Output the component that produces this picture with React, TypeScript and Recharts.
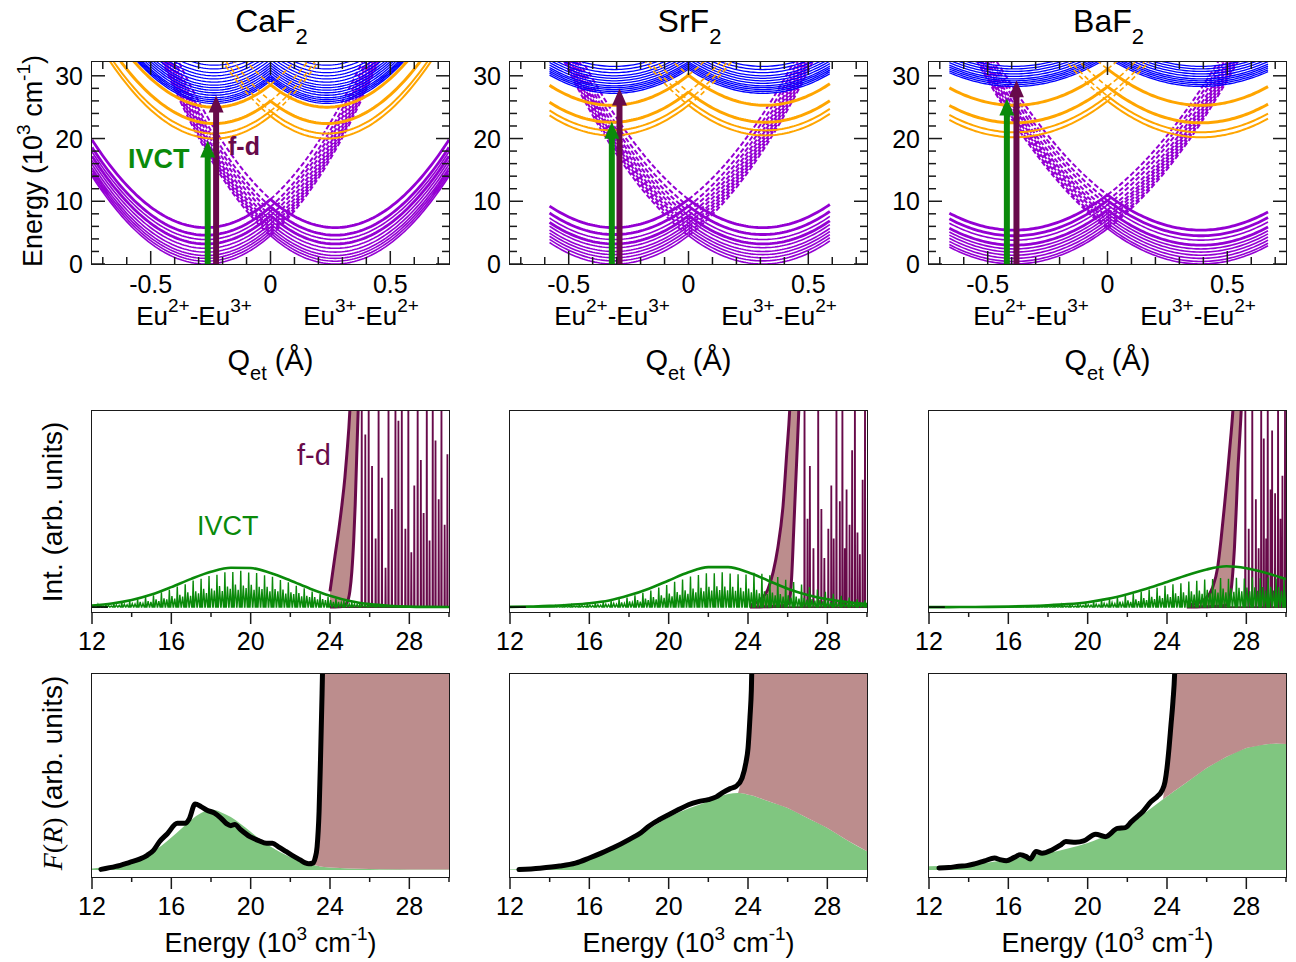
import React from "react"
import { Area, ComposedChart, Line, XAxis, YAxis } from "recharts"

const SANS = '"Liberation Sans", Arial, Helvetica, sans-serif'
const SERIF = '"Liberation Serif", "DejaVu Serif", serif'
const INK = "#1a1a1a"
const BLUE = "#0000ff"
const ORANGE = "#ffa500"
const VIOLET = "#9400d3"
const GREEN = "#0a8a0a"
const MAROON = "#680a4a"
const ROSY = "#bc8d8d"
const PALE_GREEN = "#80c680"

// plot rectangles of the 3x3 grid (px)
const COL_X = [92, 510, 929]
const PLOT_W = 357
const ROW_TOP = [62, 411, 674]
const ROW_H = [202, 201, 203]
const YW = 70
const TM = 10
const RM = 12
const XH = 52

const hosts = ["CaF", "SrF", "BaF"]

// ---------- top row axes ----------
const qTicks = [-0.7, -0.6, -0.5, -0.4, -0.3, -0.2, -0.1, 0, 0.1, 0.2, 0.3, 0.4, 0.5, 0.6, 0.7]
const qMajor = [-0.5, 0, 0.5]
const eTicks = [0, 2, 4, 6, 8, 10, 12, 14, 16, 18, 20, 22, 24, 26, 28, 30]
const eMajor = [0, 10, 20, 30]

// ---------- potential wells ----------
// vertex energies (10^3 cm^-1); wells are [|Q| of minimum, curvature]
const caRange = [-0.745, 0.745]
const caViolet = [0, 0.45, 0.9, 1.35, 1.9, 2.5, 3.2, 3.9, 4.6, 5.8]
const caVioletBold = [3.2, 4.6, 5.8]
const caOrange = [20.0, 20.8, 22.4, 25.0]
const caBlue = [25.6, 25.9, 26.2, 26.5, 26.9, 27.3, 27.7, 28.1, 28.5, 29.0, 29.5, 30.0, 30.5, 31.1, 31.7]
const caVioletWell = [0.27, 62]
const caOrangeWell = [0.235, 65]
const caBlueWell = [0.235, 65]
const caIvct = [-0.262, 18.4]
const caFd = [-0.227, 25.6]

const srRange = [-0.58, 0.59]
const srViolet = [0, 0.5, 1.0, 1.5, 2.0, 2.6, 3.2, 3.9, 4.7, 5.8]
const srVioletBold = [3.2, 4.7, 5.8]
const srOrange = [20.5, 21.3, 22.6, 25.3]
const srBlue = [27.2, 27.5, 27.8, 28.1, 28.4, 28.8, 29.2, 29.6, 30.0, 30.5, 31.0, 31.5]
const srVioletWell = [0.31, 47]
const srOrangeWell = [0.32, 47]
const srBlueWell = [0.31, 40]
const srIvct = [-0.32, 21.4]
const srFd = [-0.288, 26.7]

const baRange = [-0.66, 0.67]
const baViolet = [0, 0.4, 0.9, 1.4, 1.9, 2.4, 3.0, 3.8, 4.5, 5.4]
const baVioletBold = [3.0, 4.5, 5.4]
const baOrange = [20.2, 21.0, 22.5, 25.3]
const baBlue = [28.3, 28.6, 28.9, 29.2, 29.5, 29.9, 30.3, 30.7, 31.1, 31.5]
const baVioletWell = [0.39, 37]
const baOrangeWell = [0.39, 38]
const baBlueWell = [0.39, 30]
const baIvct = [-0.42, 25.1]
const baFd = [-0.38, 28.0]

// ---------- middle row: calculated spectra ----------
const wTicks = [12, 14, 16, 18, 20, 22, 24, 26, 28, 30]
const wMajor = [12, 16, 20, 24, 28]
const envX = [12, 13, 14, 15, 16, 17, 18, 19, 20, 21, 22, 23, 24, 25, 26, 27, 28, 29, 30]
const caEnvelope = [0.8, 1.8, 3.6, 6.4, 10.2, 14.4, 18.0, 20.1, 19.9, 17.4, 13.6, 9.4, 5.8, 3.1, 1.5, 0.65, 0.25, 0.1, 0.03]
const srEnvelope = [0.1, 0.3, 0.6, 1.2, 2.0, 3.4, 6.0, 9.4, 13.6, 17.8, 20.4, 20.4, 17.8, 13.6, 9.4, 6.2, 4.0, 2.6, 1.6]
const baEnvelope = [0, 0, 0.05, 0.1, 0.25, 0.5, 0.9, 1.5, 2.5, 4.2, 6.6, 9.5, 12.8, 16.2, 19.2, 20.8, 19.8, 17.4, 14.3]

// vibronic progression: tall lines every 0.4, two weaker lines in between
const COMB_STEP = 0.4
const caTallStart = 12.3
const caTall = [1.2, 1.4, 1.9, 2.5, 3.2, 4.0, 5.1, 6.0, 7.6, 8.8, 10.5, 11.6, 13.5, 14.4, 15.9, 16.5, 17.8, 17.9, 18.5, 17.6, 17.4, 16.2, 15.5, 13.8, 12.7, 10.9, 9.6, 7.9, 6.7, 5.3, 4.4, 3.3, 2.5, 1.9, 1.4, 1.0, 0.7, 0.5]
const caMinor = [0.6, 0.5, 0.9, 0.6, 1.1, 0.9, 1.5, 1.2, 1.8, 1.6, 2.6, 1.9, 3.0, 2.6, 3.9, 3.0, 4.4, 3.9, 5.6, 4.3, 6.2, 5.4, 7.5, 5.8, 8.0, 7.0, 9.3, 7.1, 9.5, 8.4, 10.7, 8.2, 10.5, 9.3, 11.5, 8.8, 11.0, 9.7, 11.4, 8.8, 10.4, 9.2, 10.4, 8.1, 9.2, 8.1, 8.9, 6.9, 7.6, 6.7, 7.1, 5.5, 5.8, 5.1, 5.1, 4.0, 4.1, 3.6, 3.5, 2.7, 2.6, 2.3, 2.2, 1.7, 1.6, 1.4, 1.3, 1.0, 0.9, 0.8, 0.7, 0.5, 0.5, 0.4, 0.3, 0.3]
const srTallStart = 14.3
const srTall = [0.7, 0.9, 1.1, 1.4, 1.7, 2.1, 2.6, 3.1, 4.1, 4.9, 6.0, 7.3, 8.4, 10.0, 11.2, 12.9, 14.1, 15.6, 16.4, 17.3, 17.2, 17.8, 17.1, 16.8, 16.6, 17.5, 17.0, 16.2, 15.3, 14.0, 12.8, 11.5, 10.2, 9.0, 7.8, 6.8, 5.8, 4.9, 4.0, 3.4]
const srMinor = [0.4, 0.3, 0.5, 0.4, 0.6, 0.5, 0.8, 0.6, 1.0, 0.8, 1.2, 1.0, 1.5, 1.2, 1.9, 1.5, 2.4, 1.9, 2.9, 2.3, 3.6, 2.8, 4.3, 3.5, 5.1, 4.0, 6.0, 4.7, 6.9, 5.5, 7.7, 6.2, 8.6, 6.8, 9.4, 7.5, 9.9, 8.1, 10.4, 8.4, 10.6, 8.7, 10.5, 8.6, 10.3, 8.3, 9.9, 8.0, 9.4, 7.6, 8.8, 7.0, 8.1, 6.6, 7.4, 6.0, 6.7, 5.4, 6.0, 4.9, 5.3, 4.3, 4.7, 3.8, 4.1, 3.3, 3.6, 2.9, 3.1, 2.5, 2.7, 2.2, 2.3, 1.9, 2.0, 1.6, 1.7, 1.4, 1.5, 1.2]
const baTallStart = 16.3
const baTall = [0.3, 0.4, 0.5, 0.6, 0.8, 0.9, 1.2, 1.5, 1.9, 2.3, 2.8, 3.5, 4.1, 5.0, 6.0, 6.9, 8.0, 9.0, 9.8, 10.9, 11.6, 12.2, 13.0, 13.4, 14.1, 14.3, 14.8, 14.5, 14.9, 14.6, 15.2, 14.7, 15.1, 14.6, 14.2]
const baMinor = [0.15, 0.1, 0.2, 0.15, 0.25, 0.2, 0.3, 0.25, 0.4, 0.3, 0.5, 0.4, 0.6, 0.5, 0.8, 0.6, 1.0, 0.8, 1.2, 1.0, 1.5, 1.2, 1.9, 1.5, 2.3, 1.8, 2.8, 2.2, 3.4, 2.7, 3.9, 3.1, 4.6, 3.6, 5.2, 4.1, 5.8, 4.6, 6.5, 5.1, 7.0, 5.6, 7.5, 6.0, 8.0, 6.4, 8.4, 6.8, 8.8, 7.1, 9.1, 7.4, 9.4, 7.6, 9.6, 7.8, 9.8, 8.0, 10.0, 8.1, 10.1, 8.3, 10.2, 8.4, 10.3, 8.4, 10.2, 8.3, 10.1, 8.2]

// f-d band edge (two edges of the shaded band) and f-d lines
const caFdX = [24.0, 24.25, 24.45, 24.6, 24.75, 24.85, 25.0, 25.1, 25.2, 25.27, 25.35, 25.42, 25.5]
const caFdUpper = [8, 26, 40, 52, 66, 78, 100, 125, 150, 170, 190, 210, 230]
const caFdLower = [0, 0.1, 0.2, 0.3, 1, 2, 8, 18, 35, 52, 78, 100, 130]
const caLineX = [25.6, 25.78, 25.95, 26.12, 26.3, 26.45, 26.62, 26.8, 26.95, 27.12, 27.3, 27.45, 27.62, 27.8, 27.95, 28.1, 28.25, 28.42, 28.58, 28.72, 28.88, 29.02, 29.18, 29.32, 29.48, 29.62, 29.78, 29.92]
const caLineH = [120, 88, 120, 72, 35, 120, 66, 20, 120, 50, 120, 95, 120, 40, 120, 28, 62, 120, 75, 48, 120, 34, 120, 85, 55, 120, 42, 78]

const srFdX = [24.1, 24.6, 25.0, 25.27, 25.5, 25.77, 25.95, 26.1, 26.2, 26.3, 26.4, 26.5, 26.6]
const srFdUpper = [1, 3.6, 9, 18, 30, 52, 78, 100, 125, 150, 175, 200, 230]
const srFdLower = [0, 0.1, 0.2, 0.3, 0.5, 0.8, 1.2, 4, 15, 38, 62, 85, 110]
const srLineX = [26.85, 27.0, 27.12, 27.3, 27.54, 27.7, 27.85, 28.05, 28.2, 28.32, 28.46, 28.63, 28.76, 28.88, 28.97, 29.12, 29.25, 29.39, 29.52, 29.64, 29.78, 29.9]
const srLineH = [120, 45, 72, 30, 120, 50, 25, 40, 62, 35, 120, 54, 120, 30, 60, 42, 80, 120, 38, 27, 65, 120]

const baFdX = [25.0, 25.5, 25.9, 26.3, 26.55, 26.73, 26.9, 27.06, 27.2, 27.32, 27.4, 27.5, 27.57, 27.66, 27.74, 27.8]
const baFdUpper = [1, 2, 4, 10, 20, 35, 52, 69, 85, 100, 115, 135, 150, 170, 190, 205]
const baFdLower = [0, 0.1, 0.2, 0.3, 0.4, 0.5, 0.8, 1.5, 6, 18, 30, 52, 69, 85, 100, 115]
const baLineX = [27.95, 28.12, 28.3, 28.48, 28.62, 28.75, 28.88, 29.0, 29.08, 29.22, 29.3, 29.45, 29.6, 29.72, 29.82, 29.95]
const baLineH = [120, 40, 120, 55, 30, 120, 86, 35, 120, 60, 90, 58, 120, 45, 67, 100]

// ---------- bottom row: Kubelka-Munk F(R) ----------
const caFrX = [12, 12.5, 13, 13.5, 14, 14.5, 15, 15.5, 16, 16.5, 17, 17.5, 18, 18.5, 19, 19.5, 20, 20.5, 21, 21.5, 22, 22.5, 23, 23.2, 23.35, 23.5, 23.6, 23.7, 24, 25, 26, 27, 28, 29, 30]
const caFrGreen = [0.8, 1.2, 1.8, 2.7, 4.0, 6.0, 8.8, 12.3, 16.5, 21.0, 25.5, 29.0, 30.8, 29.5, 27.0, 23.5, 19.5, 15.5, 12.0, 9.0, 6.5, 4.5, 3.0, 2.5, 2.1, 1.8, 1.6, 1.5, 1.2, 0.7, 0.45, 0.3, 0.25, 0.2, 0.2]
const caFrBrown = [null, null, null, null, null, null, null, null, null, null, null, null, null, null, null, null, null, null, null, null, null, null, 3.0, 3.8, 11.9, 48, 90, 140, 140, 140, 140, 140, 140, 140, 140]
const caBlackX = [12.45, 13.2, 13.9, 14.4, 14.8, 15.1, 15.4, 15.8, 16.3, 16.7, 16.9, 17.2, 17.5, 17.8, 18.2, 18.5, 18.8, 19.0, 19.2, 19.5, 19.96, 20.4, 20.8, 21.1, 21.4, 21.8, 22.2, 22.5, 22.75, 22.93, 23.15, 23.25, 23.35, 23.45, 23.52, 23.6, 23.68]
const caBlackY = [0.3, 1.8, 3.9, 5.5, 7.6, 10, 14.4, 18.5, 23.8, 23.8, 26, 33.7, 32.3, 30.5, 28.9, 26.5, 23.5, 22.6, 23.2, 20.5, 17, 15, 13.6, 13.6, 11.8, 9.3, 6.8, 5.1, 3.6, 3.1, 3.6, 6, 11.9, 30, 56, 90, 130]

const srFrX = [12, 13, 14, 15, 16, 17, 18, 19, 20, 21, 22, 22.5, 23, 23.5, 23.7, 23.9, 24, 24.1, 24.2, 24.3, 24.5, 25, 26, 27, 28, 29, 30]
const srFrGreen = [0.2, 0.5, 1.0, 2.6, 5.3, 9.5, 14.6, 20.8, 26.9, 31.3, 35.0, 37.2, 38.8, 39.3, 39.2, 38.8, 38.4, 38.2, 38.0, 37.8, 37.0, 35.2, 31.6, 26.5, 21.4, 15.2, 9.5]
const srFrBrown = [null, null, null, null, null, null, null, null, null, null, null, null, null, 39.3, 46.9, 55, 62, 78, 100, 140, 140, 140, 140, 140, 140, 140, 140]
const srBlackX = [12.45, 13.5, 14.5, 15.3, 16.0, 16.6, 17.2, 18.0, 18.6, 19.0, 19.5, 20.0, 20.5, 21.0, 21.5, 22.0, 22.4, 22.7, 23.1, 23.4, 23.7, 23.9, 24.0, 24.1, 24.17, 24.25]
const srBlackY = [0.2, 0.9, 2.0, 3.5, 6.1, 8.6, 11.3, 15.5, 19, 22.3, 25.5, 28.2, 30.8, 33.3, 34.9, 35.9, 37.3, 39.3, 41.5, 42.7, 46.9, 55, 62, 78, 92, 130]

const baFrX = [12, 13, 14, 15, 16, 17, 18, 19, 20, 21, 22, 23, 23.5, 23.8, 23.9, 24, 24.1, 24.2, 24.3, 24.4, 24.5, 25, 26, 27, 28, 29, 29.5, 30]
const baFrGreen = [1.9, 2.3, 2.7, 3.8, 5.3, 6.9, 8.7, 11.0, 13.8, 18.0, 23.1, 30.0, 33.8, 36.1, 36.9, 37.6, 38.3, 39.0, 39.8, 40.5, 41.2, 44.8, 52.0, 57.8, 62.2, 64.2, 64.5, 64.3]
const baFrBrown = [null, null, null, null, null, null, null, null, null, null, null, null, null, 36.1, 45, 52, 62, 74, 86, 105, 140, 140, 140, 140, 140, 140, 140, 140]
const baBlackX = [12.5, 13.0, 13.5, 13.9, 14.3, 14.8, 15.3, 15.6, 15.9, 16.3, 16.6, 16.9, 17.1, 17.4, 17.7, 18.2, 18.6, 18.9, 19.4, 19.8, 20.4, 20.9, 21.5, 21.9, 22.2, 22.5, 22.8, 23.2, 23.5, 23.75, 23.9, 24.0, 24.1, 24.2, 24.3, 24.4, 24.45]
const baBlackY = [1.0, 1.2, 1.9, 2.2, 3.1, 4.6, 6.1, 5.2, 4.7, 6.4, 7.7, 6.8, 5.6, 9.4, 8.5, 10.2, 12.5, 14.5, 14.1, 14.8, 18.2, 17.0, 21.2, 21.6, 24.5, 27.2, 30, 34.9, 37.4, 40.5, 45, 52, 62, 74, 86, 105, 130]

// ---------- helpers ----------
type QE = { q: number; e: number | null }
type XY = { x: number; y: number | null }

function qGrid(range: number[]) {
  const qs = [range[0]]
  for (let i = Math.ceil(range[0] * 100 + 1e-9); i <= Math.floor(range[1] * 100 - 1e-9); i++) qs.push(i / 100)
  qs.push(range[1])
  return qs
}

// one harmonic well; solid on its own side of Q = 0, dashed past the crossing
function branch(level: number, centre: number, k: number, range: number[], dashed: boolean): QE[] {
  const out: QE[] = []
  for (const q of qGrid(range)) {
    if (dashed ? centre * q > 0 : centre * q < 0) continue
    const e = level + k * (q - centre) * (q - centre)
    if (dashed && e > 36) continue
    out.push({ q, e })
  }
  return out
}

function family(levels: number[], well: number[], range: number[], dashed: boolean): QE[] {
  const out: QE[] = []
  levels.forEach((lv) => {
    ;[-well[0], well[0]].forEach((c) => {
      const b = branch(lv, c, well[1], range, dashed)
      if (!b.length) return
      if (out.length) out.push({ q: b[0].q, e: null })
      out.push(...b)
    })
  })
  return out
}

function spike(pts: XY[], x: number, h: number, hw: number) {
  pts.push({ x: x - hw, y: 0 }, { x, y: h }, { x: x + hw, y: 0 })
}

function comb(start: number, tall: number[], minor: number[]): XY[] {
  const pts: XY[] = [{ x: 12, y: 0 }]
  tall.forEach((h, i) => {
    const x = start + i * COMB_STEP
    spike(pts, x, h, 0.035)
    spike(pts, x + 0.13, minor[2 * i], 0.06)
    spike(pts, x + 0.27, minor[2 * i + 1], 0.06)
  })
  pts.push({ x: 30, y: 0 })
  return pts
}

function fdLines(start: number, xs: number[], hs: number[]): XY[] {
  const pts: XY[] = [{ x: start, y: 0 }]
  xs.forEach((x, i) => spike(pts, x, hs[i], 0.012))
  pts.push({ x: 30, y: 0 })
  return pts
}

const isMajor = (list: number[], v: number) => list.some((m) => Math.abs(m - v) < 1e-6)

// ---------- top row panel ----------
type WellSet = {
  range: number[]
  violet: number[]
  violetBold: number[]
  orange: number[]
  blue: number[]
  violetWell: number[]
  orangeWell: number[]
  blueWell: number[]
  ivct: number[]
  fd: number[]
}

const wellSets: WellSet[] = [
  { range: caRange, violet: caViolet, violetBold: caVioletBold, orange: caOrange, blue: caBlue, violetWell: caVioletWell, orangeWell: caOrangeWell, blueWell: caBlueWell, ivct: caIvct, fd: caFd },
  { range: srRange, violet: srViolet, violetBold: srVioletBold, orange: srOrange, blue: srBlue, violetWell: srVioletWell, orangeWell: srOrangeWell, blueWell: srBlueWell, ivct: srIvct, fd: srFd },
  { range: baRange, violet: baViolet, violetBold: baVioletBold, orange: baOrange, blue: baBlue, violetWell: baVioletWell, orangeWell: baOrangeWell, blueWell: baBlueWell, ivct: baIvct, fd: baFd },
]

const arrowHead = (color: string) => (p: any) =>
  p.index === 1 ? (
    <polygon key="head" points={`${p.cx},${p.cy - 8} ${p.cx - 7.5},${p.cy + 9} ${p.cx + 7.5},${p.cy + 9}`} fill={color} />
  ) : (
    <g key={`s${p.index}`} />
  )

function WellPanel({ col, w }: { col: number; w: WellSet }) {
  const h = ROW_H[0]
  const bottom = TM + h
  const thin = w.violet.filter((l) => !w.violetBold.includes(l))
  const bold = w.violet.filter((l) => w.violetBold.includes(l))
  const curve = { dataKey: "e", dot: false, isAnimationActive: false, connectNulls: false } as const
  return (
    <div style={{ position: "absolute", left: COL_X[col] - YW, top: ROW_TOP[0] - TM }}>
      <ComposedChart width={YW + PLOT_W + RM} height={TM + h + XH} margin={{ top: TM, right: RM, bottom: 0, left: 0 }}>
        <XAxis
          dataKey="q"
          type="number"
          domain={[-0.745, 0.745]}
          ticks={qTicks}
          interval={0}
          allowDataOverflow
          axisLine={false}
          tickLine={false}
          height={XH}
          tick={(p: any) => {
            const v = p.payload.value
            const major = isMajor(qMajor, v)
            const len = major ? 13 : 7
            return (
              <g>
                <line x1={p.x} x2={p.x} y1={bottom} y2={bottom - len} stroke={INK} strokeWidth={1.5} />
                <line x1={p.x} x2={p.x} y1={TM} y2={TM + len} stroke={INK} strokeWidth={1.5} />
                {major && (
                  <text x={p.x} y={bottom + 29} textAnchor="middle" fontSize={25} fontFamily={SANS} fill="#000">
                    {Math.abs(v) < 1e-9 ? "0" : String(v)}
                  </text>
                )}
              </g>
            )
          }}
        />
        <YAxis
          type="number"
          domain={[0, 32.2]}
          ticks={eTicks}
          interval={0}
          allowDataOverflow
          axisLine={false}
          tickLine={false}
          width={YW}
          tick={(p: any) => {
            const v = p.payload.value
            const major = isMajor(eMajor, v)
            const len = major ? 13 : 7
            return (
              <g>
                <line x1={YW} x2={YW + len} y1={p.y} y2={p.y} stroke={INK} strokeWidth={1.5} />
                <line x1={YW + PLOT_W - len} x2={YW + PLOT_W} y1={p.y} y2={p.y} stroke={INK} strokeWidth={1.5} />
                {major && (
                  <text x={YW - 9} y={p.y + 9} textAnchor="end" fontSize={25} fontFamily={SANS} fill="#000">
                    {v}
                  </text>
                )}
              </g>
            )
          }}
        />
        <Line {...curve} data={family(thin, w.violetWell, w.range, false)} stroke={VIOLET} strokeWidth={1.6} />
        <Line {...curve} data={family(bold, w.violetWell, w.range, false)} stroke={VIOLET} strokeWidth={2.8} />
        <Line {...curve} data={family(w.violet, w.violetWell, w.range, true)} stroke={VIOLET} strokeWidth={2} strokeDasharray="5 2.5" />
        <Line {...curve} data={family(w.blue, w.blueWell, w.range, false)} stroke={BLUE} strokeWidth={1.3} />
        <Line {...curve} data={family(w.orange.slice(0, 2), w.orangeWell, w.range, false)} stroke={ORANGE} strokeWidth={2} />
        <Line {...curve} data={family(w.orange.slice(2), w.orangeWell, w.range, false)} stroke={ORANGE} strokeWidth={3} />
        <Line {...curve} data={family(w.orange, w.orangeWell, w.range, true)} stroke={ORANGE} strokeWidth={1.6} strokeDasharray="5 3" />
        <Line
          dataKey="e"
          data={[{ q: w.ivct[0], e: 0 }, { q: w.ivct[0], e: w.ivct[1] }]}
          stroke={GREEN}
          strokeWidth={6}
          dot={arrowHead(GREEN)}
          isAnimationActive={false}
        />
        <Line
          dataKey="e"
          data={[{ q: w.fd[0], e: 0 }, { q: w.fd[0], e: w.fd[1] }]}
          stroke={MAROON}
          strokeWidth={6}
          dot={arrowHead(MAROON)}
          isAnimationActive={false}
        />
      </ComposedChart>
    </div>
  )
}

// ---------- energy axis for middle / bottom rows ----------
function energyAxis(h: number) {
  const bottom = TM + h
  return (
    <XAxis
      dataKey="x"
      type="number"
      domain={[12, 30]}
      ticks={wTicks}
      interval={0}
      allowDataOverflow
      axisLine={false}
      tickLine={false}
      height={XH}
      tick={(p: any) => {
        const v = p.payload.value
        const major = isMajor(wMajor, v)
        return (
          <g>
            <line x1={p.x} x2={p.x} y1={bottom} y2={bottom + (major ? 12 : 5)} stroke={INK} strokeWidth={1.5} />
            {major && (
              <text x={p.x} y={bottom + 38} textAnchor="middle" fontSize={25} fontFamily={SANS} fill="#000">
                {v}
              </text>
            )}
          </g>
        )
      }}
    />
  )
}

// ---------- middle row panel ----------
type SpectrumSet = {
  envelope: number[]
  start: number
  tall: number[]
  minor: number[]
  fdX: number[]
  fdUpper: number[]
  fdLower: number[]
  lineX: number[]
  lineH: number[]
}

const spectra: SpectrumSet[] = [
  { envelope: caEnvelope, start: caTallStart, tall: caTall, minor: caMinor, fdX: caFdX, fdUpper: caFdUpper, fdLower: caFdLower, lineX: caLineX, lineH: caLineH },
  { envelope: srEnvelope, start: srTallStart, tall: srTall, minor: srMinor, fdX: srFdX, fdUpper: srFdUpper, fdLower: srFdLower, lineX: srLineX, lineH: srLineH },
  { envelope: baEnvelope, start: baTallStart, tall: baTall, minor: baMinor, fdX: baFdX, fdUpper: baFdUpper, fdLower: baFdLower, lineX: baLineX, lineH: baLineH },
]

function SpectrumPanel({ col, s }: { col: number; s: SpectrumSet }) {
  const h = ROW_H[1]
  const band = s.fdX.map((x, i) => ({ x, band: [s.fdLower[i], s.fdUpper[i]], upper: s.fdUpper[i], lower: s.fdLower[i] }))
  const env = envX.map((x, i) => ({ x, y: s.envelope[i] }))
  return (
    <div style={{ position: "absolute", left: COL_X[col] - YW, top: ROW_TOP[1] - TM }}>
      <ComposedChart width={YW + PLOT_W + RM} height={TM + h + XH} data={band} margin={{ top: TM, right: RM, bottom: 0, left: 0 }}>
        {energyAxis(h)}
        <YAxis type="number" domain={[-2.5, 100]} allowDataOverflow width={YW} tick={false} axisLine={false} tickLine={false} />
        <Area dataKey="band" type="monotone" fill={ROSY} fillOpacity={1} stroke="none" isAnimationActive={false} />
        <Line dataKey="upper" type="monotone" stroke={MAROON} strokeWidth={3} dot={false} isAnimationActive={false} />
        <Line dataKey="lower" type="monotone" stroke={MAROON} strokeWidth={3} dot={false} isAnimationActive={false} />
        <Line dataKey="y" data={fdLines(s.fdX[0], s.lineX, s.lineH)} stroke={MAROON} strokeWidth={1.8} dot={false} isAnimationActive={false} />
        <Line dataKey="y" data={comb(s.start, s.tall, s.minor)} stroke={GREEN} strokeWidth={1.4} dot={false} isAnimationActive={false} />
        <Line dataKey="y" data={env} type="monotone" stroke={GREEN} strokeWidth={2.6} dot={false} isAnimationActive={false} />
        <Line dataKey="y" data={[{ x: 12, y: 0 }, { x: 12.8, y: 0 }]} stroke="#000" strokeWidth={1.5} dot={false} isAnimationActive={false} />
      </ComposedChart>
    </div>
  )
}

// ---------- bottom row panel ----------
type ReflectSet = { x: number[]; green: number[]; brown: (number | null)[]; blackX: number[]; blackY: number[] }

const reflect: ReflectSet[] = [
  { x: caFrX, green: caFrGreen, brown: caFrBrown, blackX: caBlackX, blackY: caBlackY },
  { x: srFrX, green: srFrGreen, brown: srFrBrown, blackX: srBlackX, blackY: srBlackY },
  { x: baFrX, green: baFrGreen, brown: baFrBrown, blackX: baBlackX, blackY: baBlackY },
]

function ReflectPanel({ col, r }: { col: number; r: ReflectSet }) {
  const h = ROW_H[2]
  const rows = r.x.map((x, i) => ({ x, green: r.green[i], brown: r.brown[i] == null ? null : [r.green[i], r.brown[i]] }))
  const black = r.blackX.map((x, i) => ({ x, y: r.blackY[i] }))
  return (
    <div style={{ position: "absolute", left: COL_X[col] - YW, top: ROW_TOP[2] - TM }}>
      <ComposedChart width={YW + PLOT_W + RM} height={TM + h + XH} data={rows} margin={{ top: TM, right: RM, bottom: 0, left: 0 }}>
        {energyAxis(h)}
        <YAxis type="number" domain={[-3.6, 100]} allowDataOverflow width={YW} tick={false} axisLine={false} tickLine={false} />
        <Area dataKey="green" type="monotone" baseValue={0} fill={PALE_GREEN} fillOpacity={1} stroke="none" isAnimationActive={false} />
        <Area dataKey="brown" type="linear" fill={ROSY} fillOpacity={1} stroke="none" isAnimationActive={false} />
        <Line
          dataKey="y"
          data={black}
          type="monotone"
          stroke="#000"
          strokeWidth={5}
          strokeLinejoin="round"
          strokeLinecap="round"
          dot={false}
          isAnimationActive={false}
        />
      </ComposedChart>
    </div>
  )
}

function Frame({ col, row }: { col: number; row: number }) {
  return (
    <div
      style={{
        position: "absolute",
        left: COL_X[col] - 0.75,
        top: ROW_TOP[row] - 0.75,
        width: PLOT_W + 1.5,
        height: ROW_H[row] + 1.5,
        border: `1.5px solid ${INK}`,
        boxSizing: "border-box",
        pointerEvents: "none",
      }}
    />
  )
}

function Labels() {
  const mid = (c: number) => COL_X[c] + PLOT_W / 2
  return (
    <svg width={1296} height={962} style={{ position: "absolute", left: 0, top: 0, pointerEvents: "none" }} fontFamily={SANS}>
      {hosts.map((t, c) => (
        <g key={t}>
          <text x={mid(c) + 1} y={32} textAnchor="middle" fontSize={32}>
            {t}
            <tspan fontSize={22} dy={12}>2</tspan>
          </text>
          <text x={COL_X[c] + 102} y={325} textAnchor="middle" fontSize={26}>
            Eu<tspan fontSize={19} dy={-13}>2+</tspan>
            <tspan dy={13}>-Eu</tspan>
            <tspan fontSize={19} dy={-13}>3+</tspan>
          </text>
          <text x={COL_X[c] + 269} y={325} textAnchor="middle" fontSize={26}>
            Eu<tspan fontSize={19} dy={-13}>3+</tspan>
            <tspan dy={13}>-Eu</tspan>
            <tspan fontSize={19} dy={-13}>2+</tspan>
          </text>
          <text x={mid(c)} y={370} textAnchor="middle" fontSize={29}>
            Q<tspan fontSize={20} dy={10}>et</tspan>
            <tspan dy={-10}> (Å)</tspan>
          </text>
          <text x={mid(c)} y={952} textAnchor="middle" fontSize={27}>
            Energy (10<tspan fontSize={19} dy={-12}>3</tspan>
            <tspan dy={12}> cm</tspan>
            <tspan fontSize={19} dy={-12}>-1</tspan>
            <tspan dy={12}>)</tspan>
          </text>
        </g>
      ))}
      <text transform="translate(42,161) rotate(-90)" textAnchor="middle" fontSize={27}>
        Energy (10<tspan fontSize={19} dy={-12}>3</tspan>
        <tspan dy={12}> cm</tspan>
        <tspan fontSize={19} dy={-12}>-1</tspan>
        <tspan dy={12}>)</tspan>
      </text>
      <text transform="translate(62,512) rotate(-90)" textAnchor="middle" fontSize={28}>
        Int. (arb. units)
      </text>
      <text transform="translate(62,773) rotate(-90)" textAnchor="middle" fontSize={28}>
        <tspan fontFamily={SERIF} fontStyle="italic">F</tspan>
        <tspan fontFamily={SERIF}>(</tspan>
        <tspan fontFamily={SERIF} fontStyle="italic">R</tspan>
        <tspan fontFamily={SERIF}>)</tspan> (arb. units)
      </text>
      <text x={128} y={168} fontSize={27} fontWeight="bold" fill={GREEN}>
        IVCT
      </text>
      <text x={228} y={155} fontSize={25} fontWeight="bold" fill={MAROON}>
        f-d
      </text>
      <text x={197} y={535} fontSize={27} fill={GREEN}>
        IVCT
      </text>
      <text x={297} y={465} fontSize={29} fill={MAROON}>
        f-d
      </text>
    </svg>
  )
}

export default function App() {
  return (
    <div style={{ position: "absolute", left: 0, top: 0, width: 1296, height: 962, background: "#fff", fontFamily: SANS }}>
      {wellSets.map((w, i) => (
        <WellPanel key={`w${i}`} col={i} w={w} />
      ))}
      {spectra.map((s, i) => (
        <SpectrumPanel key={`s${i}`} col={i} s={s} />
      ))}
      {reflect.map((r, i) => (
        <ReflectPanel key={`r${i}`} col={i} r={r} />
      ))}
      {[0, 1, 2].map((row) => [0, 1, 2].map((col) => <Frame key={`f${row}${col}`} row={row} col={col} />))}
      <Labels />
    </div>
  )
}
